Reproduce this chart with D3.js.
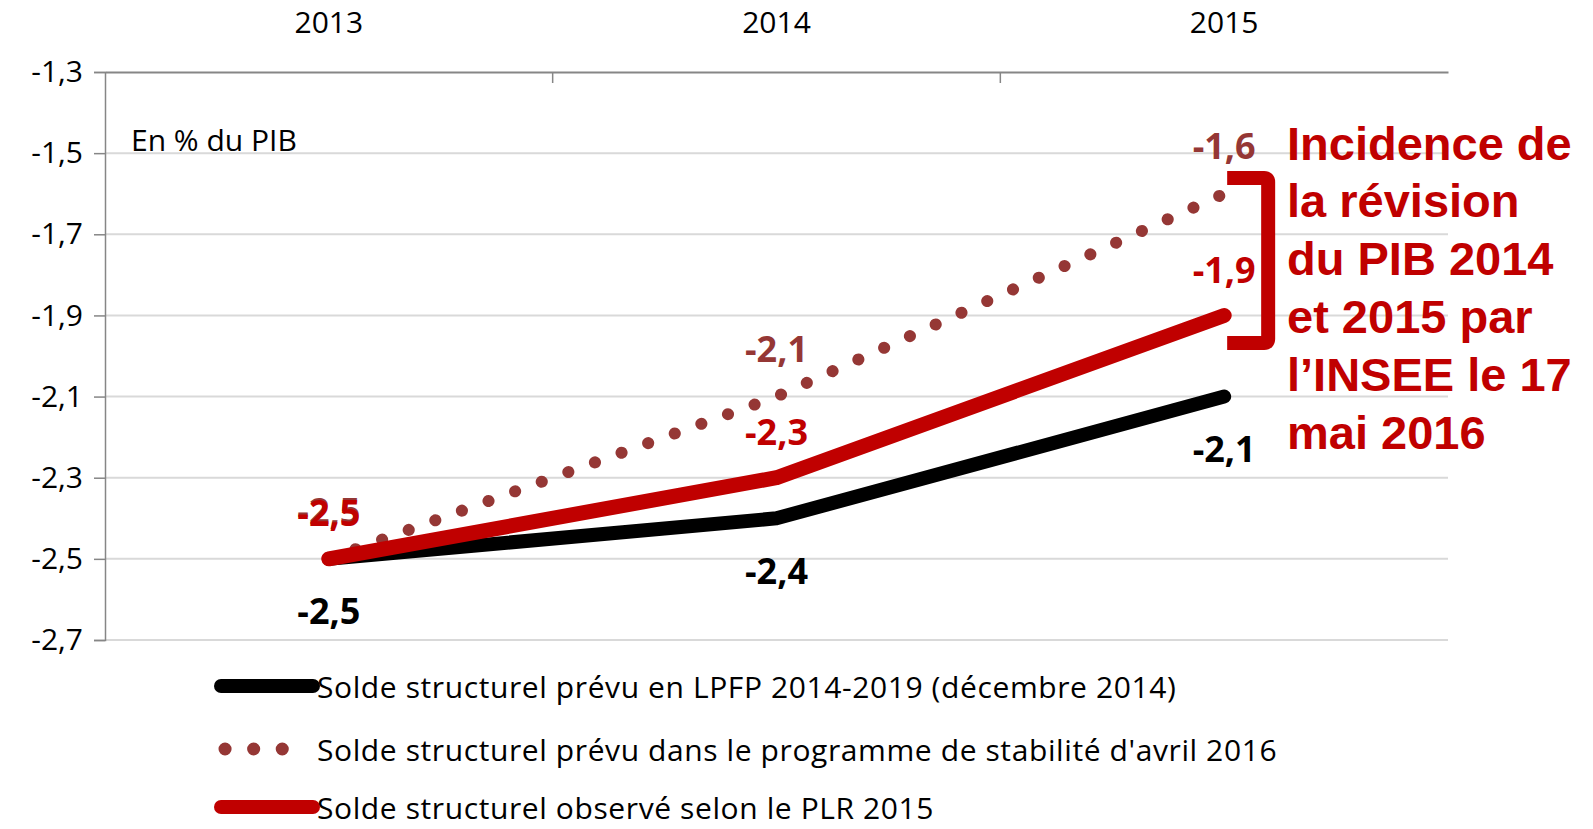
<!DOCTYPE html>
<html>
<head>
<meta charset="utf-8">
<script src="https://cdn.jsdelivr.net/npm/d3@7"></script>
<style>
  html, body { margin: 0; padding: 0; background: #fff; }
  text { font-family: "Open Sans", "DejaVu Sans", sans-serif; }
</style>
</head>
<body>
<div class="chart"></div>
<script>
'use strict';

// chart data
var years = ['2013', '2014', '2015'];
var lpfp = [-2.5, -2.4, -2.1];
var stabilite = [-2.5, -2.1, -1.6];
var plr = [-2.5, -2.3, -1.9];
var yTicks = [-1.3, -1.5, -1.7, -1.9, -2.1, -2.3, -2.5, -2.7];
var legendLabels = [
  'Solde structurel prévu en LPFP 2014-2019 (décembre 2014)',
  'Solde structurel prévu dans le programme de stabilité d\'avril 2016',
  'Solde structurel observé selon le PLR 2015'
];
var unitLabel = 'En % du PIB';
var noteLines = ['Incidence de', 'la révision', 'du PIB 2014', 'et 2015 par', 'l\u2019INSEE le 17', 'mai 2016'];

var width = 1593, height = 829;
var margin = {top: 72, left: 105, right: 145, bottom: 189};

var svg = d3.select('.chart').append('svg')
  .attr('width', width)
  .attr('height', height);

var x = d3.scaleBand()
  .domain(years)
  .range([margin.left, width - margin.right]);

var y = d3.scaleLinear()
  .domain([-2.7, -1.3])
  .range([height - margin.bottom, margin.top]);

// french decimal comma, plain hyphen for the minus
var fmt = function(v) { return d3.format('.1f')(v).replace('.', ',').replace('\u2212', '-'); };
var cx = function(d, i) { return x(years[i]) + x.bandwidth() / 2; };

// gridlines
svg.append('g')
  .selectAll('line')
  .data(yTicks.filter(function(t) { return t !== -1.3; }))
  .enter().append('line')
    .attr('x1', margin.left)
    .attr('x2', width - margin.right)
    .attr('y1', function(d) { return y(d); })
    .attr('y2', function(d) { return y(d); })
    .style('stroke', '#d9d9d9')
    .style('stroke-width', 2);

// left value axis
var yAxis = svg.append('g')
  .attr('transform', 'translate(' + margin.left + ',0)')
  .call(d3.axisLeft(y).tickValues(yTicks).tickFormat(fmt).tickSize(11).tickPadding(11));
yAxis.select('.domain').style('stroke', '#868686').style('stroke-width', 1.5);
yAxis.selectAll('.tick line').style('stroke', '#868686').style('stroke-width', 1.5);
yAxis.selectAll('.tick text')
  .style('font-size', '30px')
  .style('fill', '#000');

// top category axis
var xAxis = svg.append('g')
  .attr('transform', 'translate(0,' + margin.top + ')')
  .call(d3.axisTop(x).tickSize(0).tickPadding(39));
xAxis.select('.domain').style('stroke', '#868686').style('stroke-width', 2);
xAxis.selectAll('.tick text').style('font-size', '30px').style('fill', '#000');

// category separator ticks pointing down
svg.append('g')
  .selectAll('line')
  .data(years.slice(1))
  .enter().append('line')
    .attr('x1', function(d) { return x(d); })
    .attr('x2', function(d) { return x(d); })
    .attr('y1', margin.top)
    .attr('y2', margin.top + 11)
    .style('stroke', '#868686')
    .style('stroke-width', 1.5);

svg.append('text')
  .attr('x', 131)
  .attr('y', y(-1.5) - 2)
  .style('font-size', '30px')
  .text(unitLabel);

var line = d3.line()
  .x(cx)
  .y(function(d) { return y(d); });

svg.append('path')
  .datum(lpfp)
  .attr('d', line)
  .style('fill', 'none')
  .style('stroke', '#000')
  .style('stroke-width', 14)
  .style('stroke-linecap', 'round')
  .style('stroke-linejoin', 'round');

svg.append('path')
  .datum(stabilite)
  .attr('d', line)
  .style('fill', 'none')
  .style('stroke', '#953735')
  .style('stroke-width', 12)
  .style('stroke-linecap', 'round')
  .style('stroke-dasharray', '0.1 28.2');

svg.append('path')
  .datum(plr)
  .attr('d', line)
  .style('fill', 'none')
  .style('stroke', '#c00000')
  .style('stroke-width', 15)
  .style('stroke-linecap', 'round')
  .style('stroke-linejoin', 'round');

// data labels
function labels(values, color, dy) {
  svg.append('g')
    .selectAll('text')
    .data(values)
    .enter().append('text')
      .attr('x', cx)
      .attr('y', function(d) { return y(d) + dy; })
      .attr('text-anchor', 'middle')
      .attr('dominant-baseline', 'central')
      .style('font-size', '36px')
      .style('font-weight', 'bold')
      .style('fill', color)
      .text(fmt);
}
labels(lpfp, '#000', 52);
labels(stabilite, '#953735', -48);
labels(plr, '#c00000', -46);

// bracket
var bx = x('2015') + x.bandwidth() / 2;
svg.append('path')
  .attr('d', 'M' + (bx + 3) + ',' + 178 + 'H' + (bx + 40) + 'Q' + (bx + 44) + ',178 ' + (bx + 44) + ',182'
    + 'V' + 339 + 'Q' + (bx + 44) + ',343 ' + (bx + 40) + ',343' + 'H' + (bx + 3))
  .style('fill', 'none')
  .style('stroke', '#c00000')
  .style('stroke-width', 14);

svg.append('g')
  .selectAll('text')
  .data(noteLines)
  .enter().append('text')
    .attr('x', 1287)
    .attr('y', function(d, i) { return 143 + i * 57.8; })
    .attr('dominant-baseline', 'central')
    .style('font-family', '"Liberation Sans", Arial, sans-serif')
    .style('font-size', '47px')
    .style('font-weight', 'bold')
    .style('fill', '#c00000')
    .text(function(d) { return d; });

// legend
var legend = svg.append('g');
var legendY = [686, 749, 807];
var legendStyles = [
  {stroke: '#000', width: 14, dash: null, x1: 221, x2: 313},
  {stroke: '#953735', width: 13, dash: '0.1 28.5', x1: 225, x2: 283},
  {stroke: '#c00000', width: 14, dash: null, x1: 221, x2: 313}
];
legendLabels.forEach(function(label, i) {
  var s = legendStyles[i];
  legend.append('line')
    .attr('x1', s.x1).attr('x2', s.x2)
    .attr('y1', legendY[i]).attr('y2', legendY[i])
    .style('stroke', s.stroke)
    .style('stroke-width', s.width)
    .style('stroke-linecap', 'round')
    .style('stroke-dasharray', s.dash);
  legend.append('text')
    .attr('x', 317)
    .attr('y', legendY[i])
    .attr('dominant-baseline', 'central')
    .style('font-size', '30px')
    .style('letter-spacing', '0.6px')
    .text(label);
});
</script>
</body>
</html>
